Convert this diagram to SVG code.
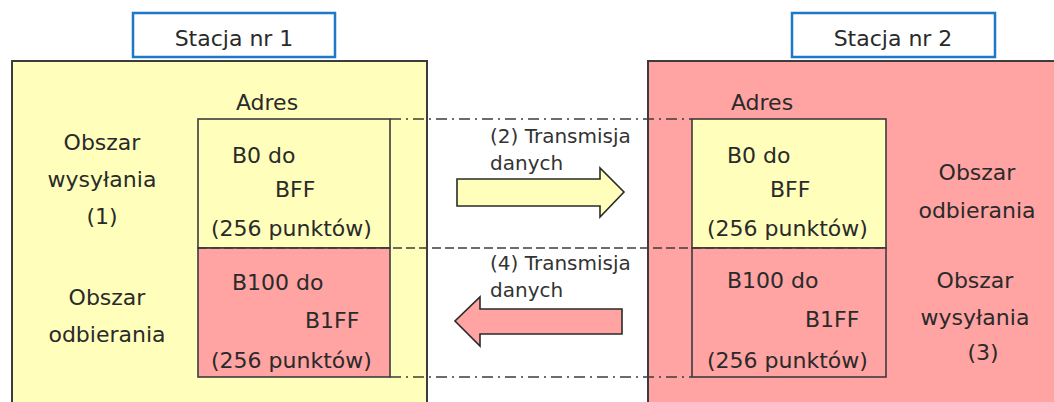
<svg xmlns="http://www.w3.org/2000/svg" width="1054" height="402" viewBox="0 0 1054 402">
  <style>
    text { font-family: "DejaVu Sans", "Liberation Sans", sans-serif; font-size: 22px; fill: #2a2a2a; }
    .lbl { font-size: 20px; fill: #333; }
    .mid { text-anchor: middle; }
    .title { fill: #fff; stroke: #1e78c8; stroke-width: 2.5; }
    .frame { stroke: #3c3c3c; stroke-width: 2; }
    .cell { stroke: #3c3c3c; stroke-width: 1.6; }
    .yellow { fill: #ffffbb; }
    .pink { fill: #ffa3a3; }
    .dashdot { fill: none; stroke: #3c3c3c; stroke-width: 1.6; stroke-dasharray: 11 5 2 5; }
    .dashed { fill: none; stroke: #3c3c3c; stroke-width: 1.6; stroke-dasharray: 9 4; }
    .arrow { stroke: #2a2a2a; stroke-width: 1.6; stroke-linejoin: miter; }
  </style>
  <rect width="1054" height="402" fill="#ffffff"/>

  <!-- Station 1 -->
  <g id="station1">
    <rect class="frame yellow" x="12" y="61" width="415" height="360"/>
    <rect class="title" x="133" y="13" width="202" height="44"/>
    <text class="mid" x="234" y="46">Stacja nr 1</text>
    <text class="mid" x="267" y="110">Adres</text>
    <text class="mid" x="102" y="150">Obszar</text>
    <text class="mid" x="102" y="187">wysyłania</text>
    <text class="mid" x="102" y="224">(1)</text>
    <text class="mid" x="107" y="305">Obszar</text>
    <text class="mid" x="107" y="342">odbierania</text>
  </g>
  <g id="station1-send">
    <rect class="cell yellow" x="198" y="119" width="192" height="129"/>
    <text x="232" y="163">B0 do</text>
    <text x="275" y="197">BFF</text>
    <text x="211" y="236">(256 punktów)</text>
  </g>
  <g id="station1-recv">
    <rect class="cell pink" x="198" y="248" width="192" height="129"/>
    <text x="232" y="290">B100 do</text>
    <text x="305" y="328">B1FF</text>
    <text x="211" y="368">(256 punktów)</text>
  </g>

  <!-- Station 2 -->
  <g id="station2">
    <rect class="frame pink" x="648" y="61" width="420" height="360"/>
    <rect class="title" x="792" y="13" width="203" height="44"/>
    <text class="mid" x="893" y="46">Stacja nr 2</text>
    <text class="mid" x="762" y="110">Adres</text>
    <text class="mid" x="977" y="180">Obszar</text>
    <text class="mid" x="977" y="218">odbierania</text>
    <text class="mid" x="975" y="288">Obszar</text>
    <text class="mid" x="975" y="325">wysyłania</text>
    <text class="mid" x="983" y="360">(3)</text>
  </g>
  <g id="station2-recv">
    <rect class="cell yellow" x="692" y="119" width="194" height="129"/>
    <text x="727" y="163">B0 do</text>
    <text x="770" y="197">BFF</text>
    <text x="707" y="236">(256 punktów)</text>
  </g>
  <g id="station2-send">
    <rect class="cell pink" x="692" y="248" width="194" height="129"/>
    <text x="727" y="288">B100 do</text>
    <text x="805" y="327">B1FF</text>
    <text x="707" y="368">(256 punktów)</text>
  </g>

  <!-- Connectors: area guide lines and transfer arrows -->
  <g id="connectors">
    <line class="dashdot" x1="390" y1="119" x2="692" y2="119"/>
    <line class="dashdot" x1="390" y1="377" x2="692" y2="377"/>
    <line class="dashed" x1="198" y1="248" x2="886" y2="248"/>
    <polygon class="arrow yellow" points="457,179 600,179 600,168 624,192 600,217 600,206 457,206"/>
    <text class="lbl" x="490" y="143">(2) Transmisja</text>
    <text class="lbl" x="490" y="170">danych</text>
    <polygon class="arrow pink" points="622,309 480,309 480,297 455,321 480,346 480,334 622,334"/>
    <text class="lbl" x="490" y="270">(4) Transmisja</text>
    <text class="lbl" x="490" y="297">danych</text>
  </g>
</svg>
